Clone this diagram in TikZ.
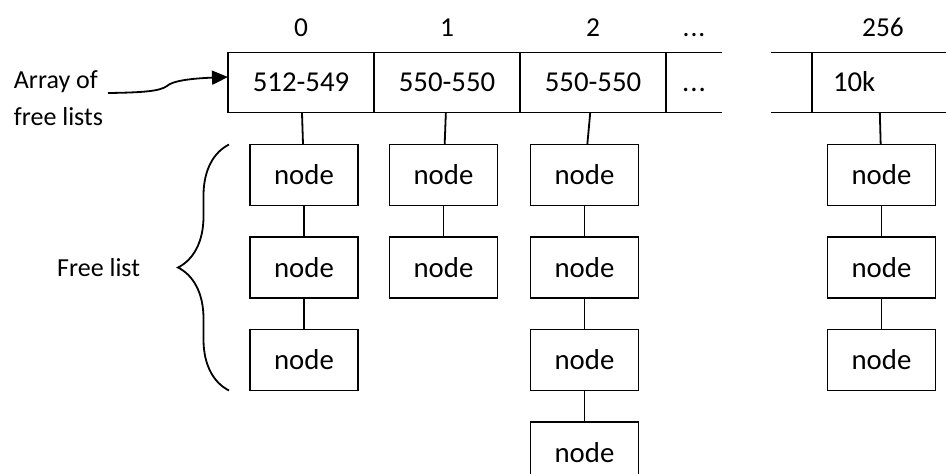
\documentclass[tikz,border=0pt]{standalone}
\usepackage{fontspec}
\setmainfont{Carlito}
\usetikzlibrary{arrows.meta, positioning, decorations.pathreplacing}

\begin{document}
\begin{tikzpicture}[
  x=0.5pt, y=-0.5pt,
  line width=0.9pt,
  node distance=15.75pt,
  cell/.style={draw, minimum width=73pt, minimum height=30pt, inner sep=0pt, outer sep=0pt,
               text height=9.2pt, text depth=0pt, font=\fontsize{14.4}{17}\selectfont},
  opencell/.style={cell, draw=none},
  listnode/.style={draw, minimum width=54pt, minimum height=30.5pt, inner sep=0pt, outer sep=0pt, font=\fontsize{14.4}{17}\selectfont},
  index/.style={inner sep=0pt, text height=9pt, text depth=0pt, font=\fontsize{13.7}{16}\selectfont},
  sidelabel/.style={align=left, inner sep=0pt, font=\fontsize{13}{18.5}\selectfont},
  arrow/.style={-{Triangle[length=8pt, width=7pt]}}
]
\useasboundingbox (0,0) rectangle (946,473);

% Array of free lists (row of cells)
\node[cell] (c0) at (301,82.5) {512-549};
\node[cell, right=0pt of c0] (c1) {550-550};
\node[cell, right=0pt of c1] (c2) {550-550};
\node[opencell, right=0pt of c2, minimum width=28pt] (c3) {.\kern0.5pt.\kern0.5pt.};
\node[opencell, anchor=west, minimum width=67pt, text width=46pt, align=left, inner xsep=10.5pt] (c256) at (812,82.5) {10k};

% Open ends of the array
\draw (c3.north west) -- (c3.north east) (c3.south west) -- (c3.south east);
\draw (c256.north east) -- (c256.north west) -- (c256.south west) -- (c256.south east);
\draw (c256.north west) -- ++(-41,0) (c256.south west) -- ++(-41,0);

% Indices
\foreach \c/\t in {c0/0, c1/1, c2/2}
  \node[index, above=7.75pt of \c] (i\c) {\t};
\node[index, above=7.75pt of c3] (ic3) {.\kern0.5pt.\kern0.5pt.};
\node[index, above=7.75pt of c256, xshift=2pt] (ic256) {256};

% Free lists (vertical chains)
\node[listnode, below=16pt of c0, xshift=1.5pt] (n0a) {node};
\node[listnode, below=of n0a] (n0b) {node};
\node[listnode, below=of n0b] (n0c) {node};

\node[listnode, below=16pt of c1, xshift=-1.75pt] (n1a) {node};
\node[listnode, below=of n1a] (n1b) {node};

\node[listnode, below=16pt of c2, xshift=-4.25pt] (n2a) {node};
\node[listnode, below=of n2a] (n2b) {node};
\node[listnode, below=of n2b] (n2c) {node};
\node[listnode, below=of n2c] (n2d) {node};

\node[listnode, below=16pt of c256, xshift=1.25pt] (n256a) {node};
\node[listnode, below=of n256a] (n256b) {node};
\node[listnode, below=of n256b] (n256c) {node};

% Links
\foreach \a/\b in {c0/n0a, n0a/n0b, n0b/n0c, c1/n1a, n1a/n1b,
                   c2/n2a, n2a/n2b, n2b/n2c, n2c/n2d,
                   c256/n256a, n256a/n256b, n256b/n256c}
  \draw (\a) -- (\b);

% Left side labels
\node[sidelabel, anchor=base west] (arraylbl) at (13,125) {Array of\\free lists};
\coordinate (arrowtail) at (108,93);
\draw[arrow] (arrowtail) .. controls (145,92.5) and (160,91) .. (167,86)
  .. controls (172,81) and (190,78.5) .. ([yshift=2.75pt]c0.west);

\draw[decorate, decoration={brace, amplitude=25.5pt}]
  ([xshift=-10.5pt]n0c.south west) -- node[sidelabel, left=44pt] (freelbl) {Free list}
  ([xshift=-10.5pt]n0a.north west);

\end{tikzpicture}
\end{document}
